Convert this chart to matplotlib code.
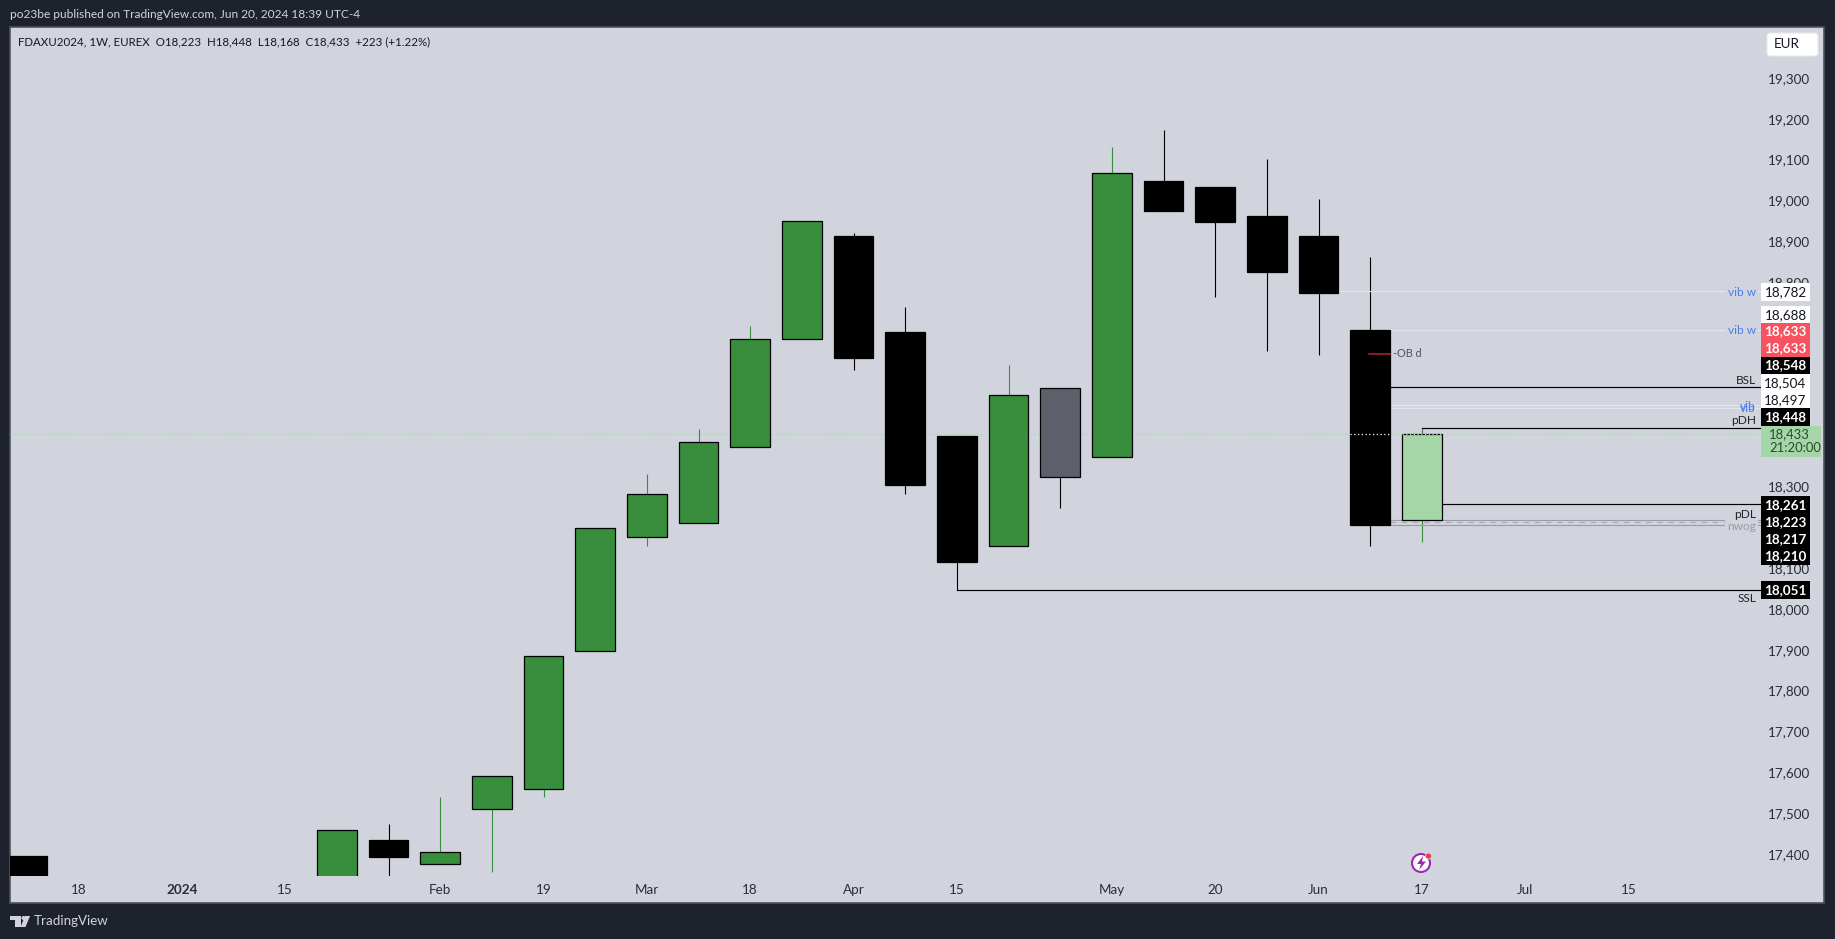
import matplotlib
matplotlib.use('Agg')
import matplotlib.pyplot as plt
from matplotlib.patches import Rectangle, Circle, Polygon, FancyBboxPatch
from matplotlib.transforms import ScaledTranslation

W, H = 1835, 939

# Weekly candles, index 0 is the week labelled "18" on the time axis
weeks  = [-1, 5, 6, 7, 8, 9, 10, 11, 12, 13, 14, 15, 16, 17, 18, 19, 20, 21, 22, 23, 24, 25, 26]
opens  = [17401, 17300, 17438, 17381, 17516, 17564, 17902, 18182, 18214, 18400, 18666, 18917, 18683, 18428, 18159, 18328, 18377, 19052, 19038, 18966, 18917, 18688, 18223]
highs  = [17401, 17464, 17478, 17544, 17596, 17890, 18202, 18334, 18445, 18697, 18955, 18926, 18743, 18428, 18603, 18545, 19135, 19178, 19038, 19106, 19009, 18866, 18448]
lows   = [17300, 17300, 17340, 17381, 17361, 17544, 17902, 18159, 18214, 18400, 18666, 18589, 18285, 18051, 18159, 18251, 18377, 18980, 18769, 18637, 18626, 18159, 18168]
closes = [17300, 17464, 17398, 17410, 17596, 17890, 18202, 18285, 18414, 18666, 18955, 18620, 18308, 18119, 18528, 18545, 19072, 18980, 18952, 18829, 18777, 18210, 18433]
grey_week = 19
live_week = 26

time_pos    = [0, 2, 4, 7, 9, 11, 13, 15, 17, 20, 22, 24, 26, 28, 30]
time_labels = ['18', '2024', '15', 'Feb', '19', 'Mar', '18', 'Apr', '15', 'May', '20', 'Jun', '17', 'Jul', '15']

price_ticks = [17400, 17500, 17600, 17700, 17800, 17900, 18000, 18100, 18300, 18800, 18900, 19000, 19100, 19200, 19300]

# Levels: price, first week, colour, width, style, label, label colour
levels = [
    (18782, 24, '#e3e5ec', 0.85, '-', 'vib w', '#4f7bf0'),
    (18688, 25, '#e3e5ec', 0.85, '-', 'vib w', '#4f7bf0'),
    (18548, 25, 'black', 0.85, '-', 'BSL', '#222222'),
    (18504, 25, '#e3e5ec', 0.85, '-', 'vib', '#4f7bf0'),
    (18497, 25, '#e3e5ec', 0.85, '-', 'vib', '#4f7bf0'),
    (18448, 26, 'black', 0.85, '-', 'pDH', '#222222'),
    (18261, 26, 'black', 0.85, '-', 'pDL', '#222222'),
    (18223, 25, '#9a9da6', 0.8, '-', 'pwog', '#9a9da6'),
    (18217, 25, '#a8abb4', 0.8, (0, (5, 5)), 'nwog', '#9a9da6'),
    (18210, 25, '#9a9da6', 0.8, '-', 'nwog', '#9a9da6'),
    (18051, 17, 'black', 0.85, '-', 'SSL', '#222222'),
]
level_text_px = [292, 331, 380, 406, 408, 421, 514, 521, 523, 526, 599]

# Price boxes on the scale, stacked by hand the way TradingView does
box_labels = ['18,782', '18,688', '18,633', '18,633', '18,548', '18,504', '18,497', '18,448',
              '18,261', '18,223', '18,217', '18,210', '18,051']
box_rows   = [292, 315, 331.5, 348.5, 365.5, 383, 400, 417, 505, 522, 539, 556, 590]
box_fill   = ['white', 'white', '#f7525f', '#f7525f', 'black', 'white', 'white', 'black',
              'black', 'black', 'black', 'black', 'black']
box_text   = ['#131722', '#131722', 'white', 'white', 'white', '#131722', '#131722', 'white',
              'white', 'white', 'white', 'white', 'white']

plt.rcParams['font.family'] = ['Lato', 'DejaVu Sans']
fig = plt.figure(figsize=(W / 100, H / 100), dpi=100, facecolor='#1e222d')


def px_axes(left, top, right, bottom):
    return [left / W, 1 - bottom / H, (right - left) / W, (bottom - top) / H]


# panel background, full pixel coordinates for the furniture
bg = fig.add_axes([0, 0, 1, 1], zorder=0)
bg.set_xlim(0, W)
bg.set_ylim(H, 0)
bg.axis('off')
bg.add_patch(Rectangle((10, 27), 1814, 876, fc='#d1d4dc', ec='#50535e', lw=1.2))

ax = fig.add_axes(px_axes(10, 27, 1761, 876), zorder=1)
ax.patch.set_alpha(0)
for s in ax.spines.values():
    s.set_visible(False)


def price_at(y):
    return 18433 + (434.0 - y) / 0.4085


ax.set_ylim(price_at(876), price_at(27))
ax.set_xlim((10 - 78.5) / 51.67, (1761 - 78.5) / 51.67)

ax.yaxis.tick_right()
ax.set_yticks(price_ticks)
ax.set_yticklabels(['{:,}'.format(p) for p in price_ticks], fontsize=9.7, color='#2a2e39')
ax.tick_params(axis='y', length=0, pad=5)
lift = ScaledTranslation(0, 2 / 100, fig.dpi_scale_trans)
for lab in ax.get_yticklabels():
    lab.set_transform(lab.get_transform() + lift)
ax.set_xticks(time_pos)
ax.set_xticklabels(time_labels, fontsize=9.7, color='#2a2e39')
ax.tick_params(axis='x', length=0, pad=6)
for lab, txt in zip(ax.get_xticklabels(), time_labels):
    if txt == '2024':
        lab.set_fontweight('bold')

# last price dotted line
ax.plot([ax.get_xlim()[0], ax.get_xlim()[1]], [closes[-1]] * 2, color='#a5d6a7', lw=0.9, ls=(0, (1, 2)), zorder=1)

for k, o, h, l, c in zip(weeks, opens, highs, lows, closes):
    up = c >= o
    if k == grey_week:
        fill, wick = '#5d606b', 'black'
    elif k == live_week:
        fill, wick = '#a5d6a7', '#388e3c'
    elif up:
        fill, wick = '#388e3c', '#388e3c'
    else:
        fill, wick = 'black', 'black'
    ax.plot([k, k], [l, h], color=wick, lw=0.8, zorder=2, solid_capstyle='butt')
    ax.add_patch(Rectangle((k - 0.385, min(o, c)), 0.77, abs(c - o), fc=fill, ec='black', lw=0.9, zorder=3))

# dotted close over the black candle and over the live candle's top edge
ax.plot([24.615, 25.385], [closes[-1]] * 2, color='white', lw=0.9, ls=(0, (1, 2)), zorder=4)
ax.plot([25.615, 26.385], [closes[-1]] * 2, color='#a5d6a7', lw=0.9, ls=(0, (1, 2)), zorder=4)

# order block marker
ax.plot([24.98, 25.38], [18630, 18630], color='#b22833', lw=1.1, zorder=5)
ax.text(25.44, 18630, '-OB d', fontsize=7.8, color='#50535e', va='center', ha='left', zorder=5)

for price, start, col, lw, ls, name, tcol in levels:
    x0 = start + 0.385 if start == 25 else start
    ax.plot([x0, ax.get_xlim()[1]], [price, price], color=col, lw=lw, ls=ls, zorder=2.5)

# scale boxes and everything else in pixels
over = fig.add_axes([0, 0, 1, 1], zorder=3)
over.set_xlim(0, W)
over.set_ylim(H, 0)
over.axis('off')
for (price, start, col, lw, ls, name, tcol), ty in zip(levels, level_text_px):
    if name == 'vib w' or name.endswith('wog'):
        over.text(1756, ty, name, fontsize=8.6, color=tcol, ha='right', va='center',
                  bbox=dict(fc='#d1d4dc', ec='none', pad=1.5), zorder=4)
    else:
        over.text(1756, ty, name, fontsize=8.6, color=tcol, ha='right', va='center', zorder=6)
for lab, row, f, tc in zip(box_labels, box_rows, box_fill, box_text):
    over.add_patch(Rectangle((1761, row - 8.7), 49, 17.4, fc=f, ec='none', zorder=7))
    over.text(1785.5, row, lab, fontsize=9.7, color=tc, ha='center', va='center', zorder=8,
              fontweight='bold' if tc == 'white' else 'normal')
over.add_patch(Rectangle((1761, 426), 60, 31, fc='#a5d6a7', ec='none', zorder=7))
over.text(1769, 434, '18,433', fontsize=9.4, color='#2a4a30', ha='left', va='center', zorder=8)
over.text(1769, 448, '21:20:00', fontsize=9.4, color='#2a4a30', ha='left', va='center', zorder=8)

# currency button
over.add_patch(FancyBboxPatch((1767, 33), 51, 23, boxstyle='round,pad=0,rounding_size=3', fc='white', ec='#e6e8ee', lw=0.8))
over.text(1774, 44.5, 'EUR', fontsize=9.6, color='#131722', ha='left', va='center')

# header and legend line
over.text(10, 14.5, 'po23be published on TradingView.com, Jun 20, 2024 18:39 UTC-4', fontsize=8.6,
          color='#d1d4dc', ha='left', va='center')
over.text(18, 41.5, 'FDAXU2024, 1W, EUREX  O18,223  H18,448  L18,168  C18,433  +223 (+1.22%)', fontsize=8.3,
          color='#131722', ha='left', va='center')

# footer logo
over.add_patch(Polygon([(10, 916), (21, 916), (21, 927), (15, 927), (15, 920), (10, 920)], fc='#d1d4dc', ec='none'))
over.add_patch(Circle((23.5, 918), 2, fc='#d1d4dc', ec='none'))
over.add_patch(Polygon([(25, 916), (30, 916), (25.5, 927), (20.5, 927)], fc='#d1d4dc', ec='none'))
over.text(34, 921, 'TradingView', fontsize=9.6, color='#d1d4dc', ha='left', va='center')

# news icon
over.add_patch(Circle((1421, 863), 9, fc='white', ec='#9c27b0', lw=1.5))
over.add_patch(Polygon([(1423, 856), (1417, 864), (1421, 864), (1419, 870), (1426, 861.5), (1422, 861.5)], fc='#9c27b0', ec='none'))
over.add_patch(Circle((1428.5, 856), 3, fc='#f23645', ec='#d1d4dc', lw=0.6))

fig.savefig('out.png', dpi=100, facecolor=fig.get_facecolor())
